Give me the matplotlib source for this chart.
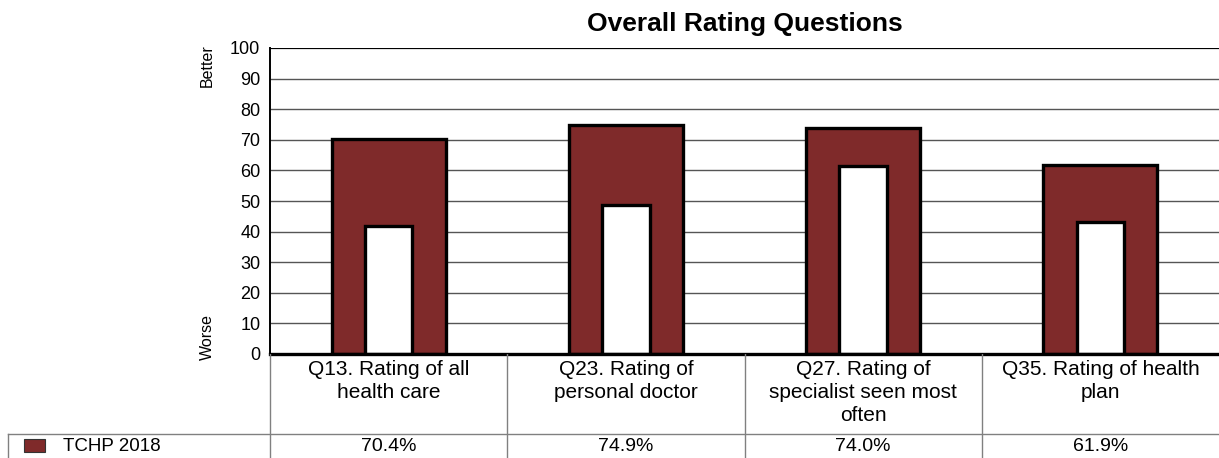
#!/usr/bin/env python3

# plot.py
#
# Overall rating questions, bar-in-bar chart with a data table underneath
import matplotlib
matplotlib.use('Agg')
import matplotlib.pyplot as plt
from matplotlib.patches import Rectangle

plt.rcParams['font.family'] = ['Liberation Sans', 'DejaVu Sans']

categories = ['Q13. Rating of all\nhealth care',
              'Q23. Rating of\npersonal doctor',
              'Q27. Rating of\nspecialist seen most\noften',
              'Q35. Rating of health\nplan']
tchp_2018 = [70.4, 74.9, 74.0, 61.9]
benchmark = [41.8, 48.7, 61.4, 43.2]
series_name = 'TCHP 2018'
yticks = list(range(0, 101, 10))

BAR_COLOR = '#7f2a2a'
GRID_COLOR = '#555555'
TABLE_COLOR = '#808080'

W, H = 1219, 458
fig = plt.figure(figsize=(W / 100, H / 100), dpi=100)

# Main plot area
left, right, top, bottom = 270, 1219, 48, 354
ax = fig.add_axes([left / W, 1 - bottom / H, (right - left) / W, (bottom - top) / H])
x = list(range(len(categories)))
ax.bar(x, tchp_2018, width=0.48, color=BAR_COLOR, edgecolor='black', linewidth=2.4, zorder=3)
ax.bar(x, benchmark, width=0.2, color='white', edgecolor='black', linewidth=2.4, zorder=4)

ax.set_xlim(-0.5, len(categories) - 0.5)
ax.set_ylim(0, 100)
ax.set_yticks(yticks)
ax.set_xticks([])
ax.tick_params(axis='y', length=0, labelsize=13, pad=7)
for y in yticks[1:-1]:
    ax.axhline(y, color=GRID_COLOR, linewidth=1.0, zorder=1)
ax.axhline(100, color='black', linewidth=1.6, zorder=1)
for side in ['top', 'right']:
    ax.spines[side].set_visible(False)
ax.spines['left'].set_linewidth(1.4)
ax.spines['bottom'].set_linewidth(2.4)
ax.spines['bottom'].set_zorder(5)
ax.set_title('Overall Rating Questions', fontsize=19, fontweight='bold', pad=12)

fig.text(207 / W, 1 - 66 / H, 'Better', rotation=90, ha='center', va='center', fontsize=11.5)
fig.text(207 / W, 1 - 337 / H, 'Worse', rotation=90, ha='center', va='center', fontsize=11.5)

# Data table underneath, sharing the category scale
tab = fig.add_axes([0, 0, 1, 1 - bottom / H])
unit = (right - left) / len(categories)
x0 = -0.5 - left / unit
tab.set_xlim(x0, len(categories) - 0.5)
tab.set_ylim(H, bottom)
tab.axis('off')
row_y = 434
for i in range(len(categories)):
    tab.plot([i - 0.5, i - 0.5], [bottom, H], color=TABLE_COLOR, linewidth=1.0)
    tab.text(i, bottom + 6, categories[i], ha='center', va='top', fontsize=15, linespacing=1.27)
    tab.text(i, (row_y + H) / 2 + 1, '{:.1f}%'.format(tchp_2018[i]), ha='center', va='center', fontsize=14)
lx = -0.5 - (left - 8) / unit
tab.plot([lx, len(categories) - 0.5], [row_y, row_y], color=TABLE_COLOR, linewidth=1.0)
tab.plot([lx, lx], [row_y, H], color=TABLE_COLOR, linewidth=1.0)
px = -0.5 - (left - 24) / unit
tab.add_patch(Rectangle((px, 439), 21 / unit, 13, facecolor=BAR_COLOR, edgecolor='#333333', linewidth=0.8))
tab.text(-0.5 - (left - 63) / unit, (row_y + H) / 2 + 1, series_name, ha='left', va='center', fontsize=13.5)

plt.savefig('out.png', dpi=100)
